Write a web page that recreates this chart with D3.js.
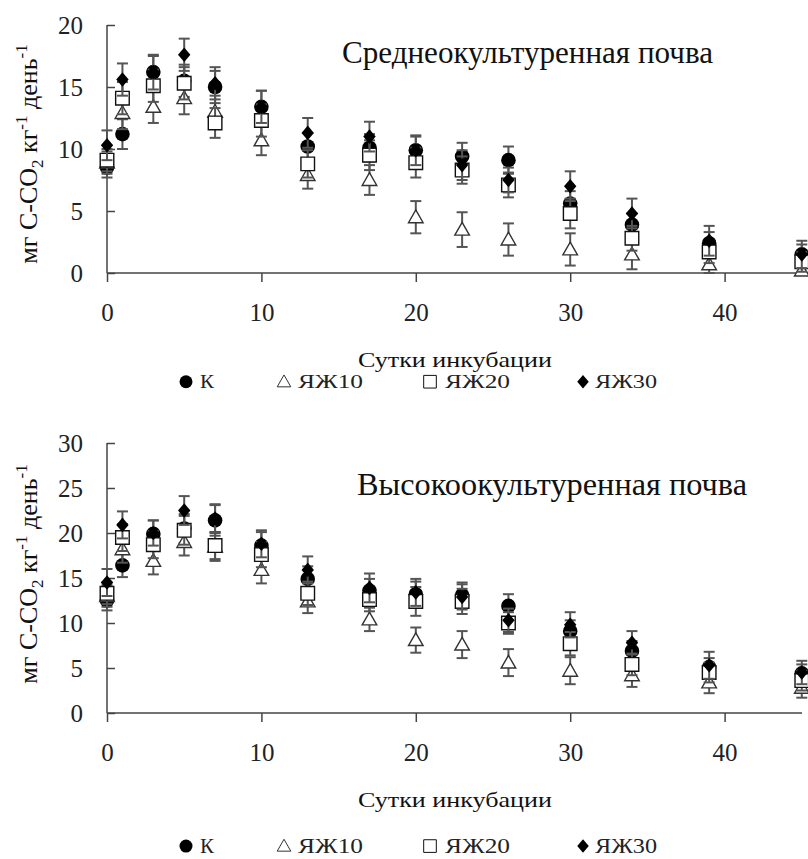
<!DOCTYPE html>
<html><head><meta charset="utf-8">
<script src="https://cdn.jsdelivr.net/npm/d3@7"></script>
<style>
body{margin:0;background:#fff;}
svg{display:block;}
svg text{font-family:"Liberation Serif";}
</style></head>
<body>
<svg id="c" width="808" height="859"></svg>
<script>
// ---------- DATA ----------
const days = [0, 1, 3, 5, 7, 10, 13, 17, 20, 23, 26, 30, 34, 39, 45];
const seriesNames = ["К", "ЯЖ10", "ЯЖ20", "ЯЖ30"];
const xTicks = [0, 10, 20, 30, 40];
const yTicksMid = [0, 5, 10, 15, 20];
const yTicksHigh = [0, 5, 10, 15, 20, 25, 30];

// Среднеокультуренная почва
const kMid   = [8.5, 11.2, 16.2, 15.5, 15.0, 13.4, 10.2, 10.1, 9.9, 9.4, 9.1, 5.6, 3.9, 2.4, 1.5];
const y10Mid = [8.9, 12.9, 13.4, 14.1, 13.0, 10.7, 7.9, 7.5, 4.5, 3.5, 2.7, 1.9, 1.5, 0.7, 0.2];
const y20Mid = [9.1, 14.1, 15.1, 15.3, 12.1, 12.3, 8.8, 9.5, 8.9, 8.3, 7.1, 4.8, 2.8, 1.7, 0.9];
const y30Mid = [10.3, 15.6, 16.2, 17.6, 15.3, 13.4, 11.3, 11.0, 9.9, 8.7, 7.5, 7.0, 4.8, 2.6, 1.5];
const kMidErr   = [0.8, 1.2, 1.3, 1.3, 1.3, 1.3, 1.1, 1.1, 1.1, 1.1, 1.1, 1.0, 0.9, 0.9, 0.8];
const y10MidErr = [0.9, 1.3, 1.3, 1.3, 1.3, 1.2, 1.1, 1.2, 1.3, 1.4, 1.3, 1.3, 1.2, 1.0, 0.8];
const y20MidErr = [0.9, 1.3, 1.3, 1.3, 1.2, 1.3, 1.1, 1.2, 1.2, 1.1, 1.0, 1.2, 1.0, 0.9, 0.8];
const y30MidErr = [1.2, 1.3, 1.4, 1.3, 1.3, 1.3, 1.2, 1.2, 1.2, 1.2, 1.0, 1.2, 1.2, 1.2, 1.1];

// Высокоокультуренная почва
const kHigh   = [12.5, 16.4, 19.9, 20.5, 21.4, 18.6, 14.9, 13.6, 13.2, 13.1, 11.9, 9.1, 6.9, 5.1, 4.4];
const y10High = [13.0, 18.2, 16.9, 19.0, 18.5, 15.9, 12.4, 10.4, 8.1, 7.6, 5.6, 4.7, 4.2, 3.4, 2.8];
const y20High = [13.3, 19.5, 18.7, 20.3, 18.6, 17.6, 13.3, 12.6, 12.4, 12.4, 10.0, 7.7, 5.4, 4.5, 3.6];
const y30High = [14.5, 20.9, 20.0, 22.5, 21.6, 18.8, 15.9, 13.9, 13.4, 12.9, 10.3, 9.8, 7.8, 5.3, 4.5];
const kHighErr   = [1.1, 1.3, 1.5, 1.6, 1.7, 1.5, 1.4, 1.3, 1.4, 1.4, 1.3, 1.2, 1.1, 1.0, 1.0];
const y10HighErr = [1.2, 1.5, 1.5, 1.5, 1.6, 1.5, 1.3, 1.3, 1.4, 1.5, 1.5, 1.5, 1.3, 1.2, 1.1];
const y20HighErr = [1.2, 1.5, 1.5, 1.6, 1.5, 1.4, 1.3, 1.3, 1.6, 1.4, 1.2, 1.3, 1.2, 1.1, 1.1];
const y30HighErr = [1.5, 1.5, 1.4, 1.6, 1.6, 1.5, 1.5, 1.6, 1.5, 1.4, 1.3, 1.4, 1.3, 1.5, 1.3];

const titleMid = "Среднеокультуренная почва";
const titleHigh = "Высокоокультуренная почва";
const xTitle = "Сутки инкубации";

// ---------- DRAWING ----------
const svg = d3.select("#c");
const FONT = "Liberation Serif";
const axisColor = "#444";
const errColor = "#555";

const markerPath = {
  "ЯЖ10": s => `M0,${-s}L${s},${s*0.75}L${-s},${s*0.75}Z`,
  "ЯЖ20": s => `M${-s*0.93},${-s*0.93}H${s*0.93}V${s*0.93}H${-s*0.93}Z`,
  "ЯЖ30": s => `M0,${-s}L${s*0.85},0L0,${s}L${-s*0.85},0Z`
};

function drawMarker(g, name, cx, cy, s, legend) {
  if (name === "К") {
    g.append("circle").attr("cx", cx).attr("cy", cy).attr("r", s).attr("fill", "#000");
  } else {
    const p = g.append("path").attr("d", markerPath[name](s))
      .attr("transform", `translate(${cx},${cy})`);
    if (name === "ЯЖ30") p.attr("fill", "#000");
    else p.attr("fill", "#fff").attr("stroke", name === "ЯЖ10" ? "#333" : "#111")
          .attr("stroke-width", legend ? 1 : 1.4);
  }
}

function txt(sel) {
  return sel.style("font-family", FONT);
}

function panel(cfg) {
  const x = d3.scaleLinear().domain([0, 45]).range([107, 801.8]);
  const y = d3.scaleLinear().domain(cfg.yDomain).range(cfg.yRange);
  const g = svg.append("g");

  // axes
  const xa = g.append("g").attr("transform", `translate(0,${cfg.yRange[0]})`)
    .call(d3.axisBottom(x).tickValues(xTicks).tickSize(9).tickPadding(21).tickSizeOuter(0));
  xa.select(".domain").remove();
  xa.selectAll("line").attr("stroke", axisColor).attr("stroke-width", 1.5);
  txt(xa.selectAll("text")).attr("font-size", 25).attr("fill", "#222");

  const ya = g.append("g").attr("transform", `translate(107,0)`)
    .call(d3.axisLeft(y).tickValues(cfg.yTicks).tickSize(-8).tickPadding(24).tickSizeOuter(0));
  ya.select(".domain").remove();
  ya.selectAll("line").attr("stroke", axisColor).attr("stroke-width", 1.5);
  txt(ya.selectAll("text")).attr("font-size", 25).attr("fill", "#222");

  g.append("line").attr("x1", 107).attr("x2", 107).attr("y1", cfg.yRange[1]).attr("y2", cfg.yRange[0])
    .attr("stroke", axisColor).attr("stroke-width", 1.5);
  g.append("line").attr("x1", 107).attr("x2", cfg.xEnd).attr("y1", cfg.yRange[0]).attr("y2", cfg.yRange[0])
    .attr("stroke", axisColor).attr("stroke-width", 1.5);

  // series
  cfg.series.forEach((vals, si) => {
    const name = seriesNames[si];
    const errs = cfg.errs[si];
    const sg = g.append("g");
    days.forEach((d, i) => {
      const cx = x(d), top = y(vals[i] + errs[i]), bot = y(Math.max(0, vals[i] - errs[i]));
      sg.append("line").attr("x1", cx).attr("x2", cx).attr("y1", top).attr("y2", bot)
        .attr("stroke", errColor).attr("stroke-width", 2);
      [top, bot].forEach(yy => sg.append("line").attr("x1", cx - 5.5).attr("x2", cx + 5.5)
        .attr("y1", yy).attr("y2", yy).attr("stroke", errColor).attr("stroke-width", 2));
    });
    days.forEach((d, i) => drawMarker(sg, name, x(d), y(vals[i]), 7.3, false));
  });

  // title
  txt(g.append("text")).attr("x", cfg.titleX).attr("y", cfg.titleY)
    .attr("font-size", 31).attr("fill", "#111")
    .attr("textLength", cfg.titleLen).attr("lengthAdjust", "spacingAndGlyphs")
    .text(cfg.title);

  // y label
  const yl = txt(g.append("text"))
    .attr("transform", `translate(37,${cfg.yLabelY}) rotate(-90)`)
    .attr("text-anchor", "middle").attr("font-size", 26).attr("fill", "#111");
  yl.append("tspan").text("мг С-СО");
  yl.append("tspan").attr("font-size", 17).attr("dy", 6).text("2");
  yl.append("tspan").attr("dy", -6).text(" кг");
  yl.append("tspan").attr("font-size", 17).attr("dy", -10).text("-1");
  yl.append("tspan").attr("dy", 10).text(" день");
  yl.append("tspan").attr("font-size", 17).attr("dy", -10).text("-1");

  // x title
  txt(g.append("text")).attr("x", 358).attr("y", cfg.xTitleY)
    .attr("font-size", 22).attr("fill", "#111")
    .attr("textLength", 194).attr("lengthAdjust", "spacingAndGlyphs").text(xTitle);

  // legend
  const symX = [186, 284, 430, 583];
  const txtX = [200, 298, 445, 595];
  const txtLen = [14, 65, 65, 62];
  seriesNames.forEach((n, i) => {
    drawMarker(g, n, symX[i], cfg.legendY - cfg.legendFs * 0.33, n === "К" ? 6.5 : 6.8, true);
    txt(g.append("text")).attr("x", txtX[i]).attr("y", cfg.legendY)
      .attr("font-size", cfg.legendFs).attr("fill", "#222")
      .attr("textLength", txtLen[i]).attr("lengthAdjust", "spacingAndGlyphs").text(n);
  });
}

panel({
  yDomain: [0, 20], yRange: [273, 25], yTicks: yTicksMid, xEnd: 808,
  series: [kMid, y10Mid, y20Mid, y30Mid],
  errs: [kMidErr, y10MidErr, y20MidErr, y30MidErr],
  title: titleMid, titleX: 342, titleY: 63, titleLen: 371,
  yLabelY: 154, xTitleY: 367, legendY: 388, legendFs: 19
});
panel({
  yDomain: [0, 30], yRange: [713, 443], yTicks: yTicksHigh, xEnd: 802,
  series: [kHigh, y10High, y20High, y30High],
  errs: [kHighErr, y10HighErr, y20HighErr, y30HighErr],
  title: titleHigh, titleX: 357, titleY: 495, titleLen: 390,
  yLabelY: 574, xTitleY: 807, legendY: 853, legendFs: 21
});
</script>
</body></html>
